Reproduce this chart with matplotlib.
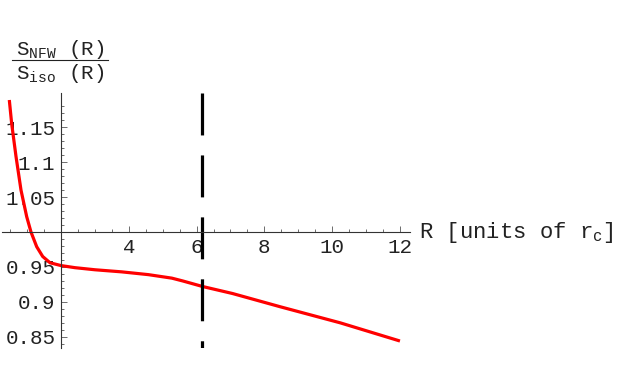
import matplotlib
matplotlib.use("Agg")
import matplotlib.pyplot as plt
from matplotlib.ticker import FixedLocator
import numpy as np

# curve (ratio of surface densities vs R)
r_vals = [0.475, 0.545, 0.673, 0.82, 0.988, 1.115, 1.283, 1.46, 1.676, 2.0,
          2.41, 3.0, 3.79, 4.58, 5.27, 5.59, 6.18, 7.06, 8.47, 10.24, 12.0]
ratio_vals = [1.189, 1.155, 1.108, 1.06, 1.022, 1.0, 0.979, 0.965, 0.956, 0.952,
              0.949, 0.946, 0.943, 0.939, 0.934, 0.930, 0.922, 0.912, 0.893,
              0.870, 0.844]

r_mark = 6.15  # vertical dashed marker
x_major = [4, 6, 8, 10, 12]
y_major = [0.85, 0.9, 0.95, 1.05, 1.1, 1.15]
x_origin, y_origin = 2, 1

plt.rcParams['font.family'] = ['Liberation Mono', 'DejaVu Sans Mono']
plt.rcParams['mathtext.fontset'] = 'custom'
plt.rcParams['mathtext.rm'] = 'Liberation Mono'
plt.rcParams['mathtext.it'] = 'Liberation Mono'
plt.rcParams['mathtext.tt'] = 'Liberation Mono'
plt.rcParams['lines.scale_dashes'] = False

fig = plt.figure(figsize=(6.23, 3.85), dpi=100)
ax = fig.add_axes([0.0027, 0.0961, 0.6556, 0.6623])

ax.plot(r_vals, ratio_vals, color='#ff0000', lw=2.3, solid_capstyle='butt',
        solid_joinstyle='round')
ax.plot([r_mark, r_mark], [1.199, 0.834], color='black', lw=2.3,
        dashes=(30.2, 14.4), solid_capstyle='butt')

ax.set_xlim(0.25, 12.3)
ax.set_ylim(0.834, 1.199)

# Mathematica style axes crossing at (2, 1)
for s in ['top', 'right']:
    ax.spines[s].set_visible(False)
ax.spines['left'].set_position(('data', x_origin))
ax.spines['bottom'].set_position(('data', y_origin))
for s in ['left', 'bottom']:
    ax.spines[s].set_color('#333333')
    ax.spines[s].set_linewidth(0.8)

ax.xaxis.set_major_locator(FixedLocator(x_major))
ax.yaxis.set_major_locator(FixedLocator(y_major))
x_minor = [v for v in np.arange(0.5, 12.01, 0.5) if v not in x_major and v != x_origin]
y_minor = [v for v in np.round(np.arange(0.84, 1.19, 0.01), 2)
           if v not in y_major and v != y_origin]
ax.xaxis.set_minor_locator(FixedLocator(x_minor))
ax.yaxis.set_minor_locator(FixedLocator(y_minor))
ax.set_xticklabels([str(v) for v in x_major])
ax.set_yticklabels(['0.85', '0.9', '0.95', '1.05', '1.1', '1.15'])
ax.tick_params(which='both', direction='in', color='#555555', width=0.6,
               labelsize=15, labelcolor='#222222', pad=4)
ax.tick_params(which='major', length=4.5)
ax.tick_params(which='minor', length=2.5)

ax.text(12.55, 1.0, r'R [units of r$_\mathrm{c}$]', fontsize=16, color='#222222',
        ha='left', va='center', clip_on=False)

# y label as a fraction in the upper left corner
fig.text(0.097, 1 - 55 / 385, r'S$_\mathrm{NFW}$ (R)', fontsize=15, color='#222222',
         ha='center', va='baseline')
fig.text(0.097, 1 - 79 / 385, r'S$_\mathrm{iso}$ (R)', fontsize=15, color='#222222',
         ha='center', va='baseline')
fig.add_artist(plt.Line2D([12 / 623, 108 / 623], [1 - 60 / 385, 1 - 60 / 385],
                          color='#222222', lw=0.8))

fig.savefig('out.png', dpi=100)
